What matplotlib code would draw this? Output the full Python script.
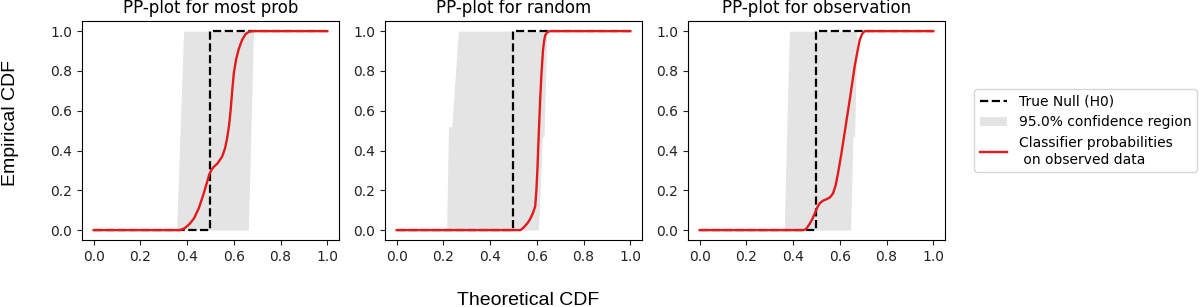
import matplotlib.pyplot as plt
from matplotlib.patches import Patch
from matplotlib.lines import Line2D

titles = ["PP-plot for most prob", "PP-plot for random", "PP-plot for observation"]

# true null: point mass at 0.5
null_x = [0.0, 0.5, 0.5, 1.0]
null_y = [0.0, 0.0, 1.0, 1.0]

# confidence band (left / right edge in x for each y)
band_y = [
    [0.0, 1.0],
    [0.0, 0.47, 0.47, 0.52, 0.52, 1.0],
    [0.0, 0.47, 0.47, 1.0],
]
band_left = [
    [0.355, 0.385],
    [0.214, 0.221, 0.221, 0.222, 0.236, 0.264],
    [0.362, 0.372, 0.372, 0.384],
]
band_right = [
    [0.662, 0.684],
    [0.607, 0.624, 0.631, 0.632, 0.632, 0.643],
    [0.646, 0.656, 0.663, 0.673],
]

# classifier probabilities on observed data
red_x = [
    [0.0, 0.37, 0.39, 0.41, 0.43, 0.45, 0.47, 0.485, 0.495, 0.505, 0.514, 0.53, 0.55,
     0.562, 0.571, 0.58, 0.586, 0.593, 0.6, 0.61, 0.621, 0.635, 0.65, 0.665, 0.68, 1.0],
    [0.0, 0.53, 0.545, 0.56, 0.571, 0.583, 0.593, 0.598, 0.603, 0.608, 0.614, 0.62,
     0.626, 0.631, 0.636, 0.645, 0.657, 1.0],
    [0.0, 0.443, 0.455, 0.47, 0.482, 0.493, 0.504, 0.514, 0.528, 0.543, 0.558, 0.571,
     0.582, 0.592, 0.606, 0.62, 0.631, 0.642, 0.653, 0.663, 0.674, 0.685, 0.695, 0.706, 1.0],
]
red_y = [
    [0.0, 0.0, 0.01, 0.03, 0.06, 0.11, 0.18, 0.24, 0.28, 0.305, 0.318, 0.335, 0.37,
     0.41, 0.46, 0.53, 0.6, 0.7, 0.79, 0.86, 0.91, 0.955, 0.985, 0.997, 1.0, 1.0],
    [0.0, 0.0, 0.015, 0.035, 0.055, 0.085, 0.12, 0.2, 0.32, 0.48, 0.65, 0.79,
     0.9, 0.95, 0.98, 0.995, 1.0, 1.0],
    [0.0, 0.0, 0.005, 0.03, 0.055, 0.085, 0.115, 0.135, 0.148, 0.155, 0.165, 0.185,
     0.225, 0.285, 0.38, 0.486, 0.57, 0.653, 0.74, 0.82, 0.89, 0.955, 0.985, 1.0, 1.0],
]

fig = plt.figure(figsize=(12, 3.07), dpi=100)
lefts = [0.0683, 0.3208, 0.5733]
for i in range(3):
    ax = fig.add_axes([lefts[i], 0.218, 0.2142, 0.713])
    ax.fill_betweenx(band_y[i], band_left[i], band_right[i], color="#e4e4e4", lw=0)
    ax.plot(null_x, null_y, color="black", ls="--", lw=1.6)
    ax.plot(red_x[i], red_y[i], color="#e31a1c", lw=1.7)
    ax.set_title(titles[i], fontsize=12)
    ax.set_xticks([0.0, 0.2, 0.4, 0.6, 0.8, 1.0])
    ax.set_yticks([0.0, 0.2, 0.4, 0.6, 0.8, 1.0])
    ax.tick_params(labelsize=10, colors="#222222")

fig.text(0.44, 0.008, "Theoretical CDF", fontsize=14, family="Liberation Sans",
         ha="center", va="baseline")
fig.text(0.002, 0.6, "Empirical CDF", fontsize=14, family="Liberation Sans",
         rotation=90, ha="left", va="center")

handles = [
    Line2D([], [], color="black", ls="--", lw=1.6),
    Patch(facecolor="#e4e4e4", edgecolor="none"),
    Line2D([], [], color="#e31a1c", lw=1.7),
]
labels = ["True Null (H0)", "95.0% confidence region",
          "Classifier probabilities\n on observed data"]
fig.legend(handles, labels, loc="center left", bbox_to_anchor=(0.806, 0.575),
           fontsize=10, frameon=True)

fig.savefig("out.png", dpi=100)
